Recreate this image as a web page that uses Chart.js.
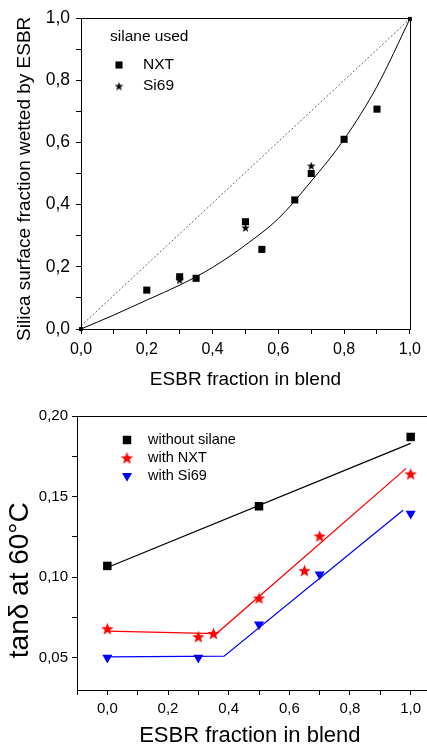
<!DOCTYPE html>
<html>
<head>
<meta charset="utf-8">
<script src="https://cdn.jsdelivr.net/npm/chart.js"></script>
<style>
  html, body { margin: 0; padding: 0; background: #fff; overflow: hidden; }
  #wrap { position: relative; width: 427px; height: 747px; overflow: hidden; }
  #wetting { position: absolute; left: 0; top: 0; }
  #tand { position: absolute; left: 0; top: 395px; }
</style>
</head>
<body>
<div id="wrap">
  <canvas id="wetting" width="427" height="395"></canvas>
  <canvas id="tand" width="460" height="352"></canvas>
</div>
<script>
// ---- top chart: silica surface fraction wetted by ESBR ----
const nxtX = [0.2, 0.3, 0.35, 0.5, 0.55, 0.65, 0.7, 0.8, 0.9];
const nxtWetted = [0.125, 0.168, 0.163, 0.345, 0.256, 0.415, 0.5, 0.61, 0.707];
const si69X = [0.3, 0.5, 0.7];
const si69Wetted = [0.158, 0.326, 0.525];
const fitX = [0, 0.1, 0.2, 0.3, 0.4, 0.5, 0.6, 0.7, 0.8, 0.9, 1.0];
const fitWetted = [0, 0.045, 0.093, 0.141, 0.198, 0.27, 0.355, 0.475, 0.61, 0.78, 0.997];
const diagX = [0, 1];
const diagY = [0.01, 0.997];
const wetTicksX = [0, 0.1, 0.2, 0.3, 0.4, 0.5, 0.6, 0.7, 0.8, 0.9, 1.0];
const wetTicksY = [0, 0.1, 0.2, 0.3, 0.4, 0.5, 0.6, 0.7, 0.8, 0.9, 1.0];

// ---- bottom chart: tan delta at 60 C ----
const plainX = [0, 0.5, 1.0];
const tanPlain = [0.107, 0.144, 0.187];
const tanNxtX = [0, 0.3, 0.35, 0.5, 0.65, 0.7, 1.0];
const tanNxt = [0.068, 0.063, 0.065, 0.087, 0.104, 0.1255, 0.164];
const tanSi69X = [0, 0.3, 0.5, 0.7, 1.0];
const tanSi69 = [0.05, 0.05, 0.0707, 0.1017, 0.1394];
const plainFitX = [0, 1.0];
const plainFit = [0.106, 0.183];
const nxtFitX = [0, 0.36, 0.985];
const nxtFit = [0.0665, 0.065, 0.1675];
const si69FitX = [0, 0.385, 0.975];
const si69Fit = [0.0505, 0.051, 0.1415];
const tanTicksX = [-0.1, 0, 0.1, 0.2, 0.3, 0.4, 0.5, 0.6, 0.7, 0.8, 0.9, 1.0, 1.1];
const tanTicksY = [0.05, 0.075, 0.1, 0.125, 0.15, 0.175, 0.2];

const FONT = "'Liberation Sans', Arial, sans-serif";
const pts = (xs, ys) => xs.map((x, i) => ({ x: x, y: ys[i] }));
const comma = (v, d) => v.toFixed(d).replace('.', ',');

// filled five point star used as point style
function makeStar(size, color) {
  const c = document.createElement('canvas');
  c.width = size; c.height = size;
  const g = c.getContext('2d');
  const R = size / 2, r = R * 0.42;
  g.fillStyle = color;
  g.beginPath();
  for (let i = 0; i < 10; i++) {
    const a = -Math.PI / 2 + i * Math.PI / 5;
    const rad = i % 2 === 0 ? R : r;
    g.lineTo(R + Math.cos(a) * rad, R + 0.5 + Math.sin(a) * rad);
  }
  g.closePath();
  g.fill();
  return c;
}

// box around the plot area
const frame = {
  id: 'frame',
  afterDatasetsDraw(chart) {
    const a = chart.chartArea, ctx = chart.ctx;
    ctx.save();
    ctx.strokeStyle = '#000';
    ctx.lineWidth = 1;
    ctx.strokeRect(Math.round(a.left) + 0.5, Math.round(a.top) + 0.5,
      Math.round(a.right - a.left), Math.round(a.bottom - a.top));
    ctx.restore();
  }
};

// legend drawn inside the plot, with the datasets' own markers
const markerLegend = {
  id: 'markerLegend',
  afterDraw(chart, args, opts) {
    const ctx = chart.ctx;
    ctx.save();
    ctx.font = opts.font;
    ctx.textBaseline = 'middle';
    ctx.fillStyle = '#000';
    if (opts.title) ctx.fillText(opts.title, opts.titleX, opts.titleY);
    opts.labels.forEach((label, i) => {
      const ds = chart.data.datasets.find(d => d.label === label);
      const y = opts.y + i * opts.rowH;
      ctx.fillStyle = ds.backgroundColor;
      Chart.helpers.drawPoint(ctx, {
        pointStyle: ds.pointStyle, radius: ds.pointRadius,
        rotation: ds.pointRotation || 0, borderWidth: 0
      }, opts.markerX, y);
      ctx.fillStyle = '#000';
      ctx.fillText(label, opts.textX, y);
    });
    ctx.restore();
  }
};

function axis(o) {
  return {
    type: 'linear',
    min: o.min, max: o.max,
    afterBuildTicks: s => { s.ticks = o.ticks.map(v => ({ value: v })); },
    afterFit: s => { if (o.w) s.width = o.w; if (o.h) s.height = o.h; },
    ticks: {
      autoSkip: false, maxRotation: 0, color: '#000', padding: o.pad,
      font: { family: FONT, size: o.tickSize },
      callback: v => o.major(v) ? comma(v, o.dec) : ''
    },
    grid: { drawOnChartArea: false, tickLength: 5, tickColor: '#000', tickWidth: 1 },
    border: { color: '#000', width: 1 },
    title: {
      display: true, text: o.title, color: '#000',
      font: { family: FONT, size: o.titleSize },
      padding: o.titlePad
    }
  };
}

const smallStar = makeStar(9, '#000');
new Chart(document.getElementById('wetting'), {
  type: 'scatter',
  data: {
    datasets: [
      { label: 'diag', data: pts(diagX, diagY), showLine: true, pointRadius: 0,
        borderColor: '#555', borderWidth: 0.9, borderDash: [2, 2] },
      { label: 'fit', data: pts(fitX, fitWetted), showLine: true, cubicInterpolationMode: 'monotone',
        borderColor: '#000', borderWidth: 1, backgroundColor: '#000', pointStyle: 'rect',
        pointRadius: c => (c.dataIndex === 0 || c.dataIndex === fitX.length - 1) ? 2.2 : 0 },
      { label: 'NXT', data: pts(nxtX, nxtWetted), pointStyle: 'rect', pointRadius: 5,
        backgroundColor: '#000', borderWidth: 0 },
      { label: 'Si69', data: pts(si69X, si69Wetted), pointStyle: smallStar, pointRadius: 4.5,
        backgroundColor: '#000', borderWidth: 0 }
    ]
  },
  options: {
    responsive: false, animation: false, devicePixelRatio: 1,
    layout: { padding: { top: 18, right: 12, left: 0, bottom: 0 } },
    datasets: { scatter: { clip: false } },
    plugins: {
      legend: { display: false }, tooltip: { enabled: false },
      markerLegend: {
        font: '15.5px ' + FONT, title: 'silane used', titleX: 110, titleY: 37,
        labels: ['NXT', 'Si69'], markerX: 119, textX: 143, y: 65, rowH: 21
      }
    },
    scales: {
      x: axis({ min: 0, max: 1, ticks: wetTicksX, h: 66, pad: 6, tickSize: 16, dec: 1,
        major: v => Math.round(v * 10) % 2 === 0, title: 'ESBR fraction in blend', titleSize: 19,
        titlePad: { top: 0, bottom: 4 } }),
      y: axis({ min: 0, max: 1, ticks: wetTicksY, w: 81, pad: 6, tickSize: 17.5, dec: 1,
        major: v => Math.round(v * 10) % 2 === 0, title: 'Silica surface fraction wetted by ESBR  ',
        titleSize: 19, titlePad: { top: 13, bottom: 0 } })
    }
  },
  plugins: [frame, markerLegend]
});

const redStar = makeStar(13, '#ff0000');
new Chart(document.getElementById('tand'), {
  type: 'scatter',
  data: {
    datasets: [
      { label: 'fitPlain', data: pts(plainFitX, plainFit), showLine: true, pointRadius: 0,
        borderColor: '#000', borderWidth: 1.3 },
      { label: 'fitNxt', data: pts(nxtFitX, nxtFit), showLine: true, pointRadius: 0,
        borderColor: '#ff0000', borderWidth: 1.3 },
      { label: 'fitSi69', data: pts(si69FitX, si69Fit), showLine: true, pointRadius: 0,
        borderColor: '#0000ff', borderWidth: 1.3 },
      { label: 'without silane', data: pts(plainX, tanPlain), pointStyle: 'rect', pointRadius: 6,
        backgroundColor: '#000', borderWidth: 0 },
      { label: 'with NXT', data: pts(tanNxtX, tanNxt), pointStyle: redStar, pointRadius: 6,
        backgroundColor: '#ff0000', borderWidth: 0 },
      { label: 'with Si69', data: pts(tanSi69X, tanSi69), pointStyle: 'triangle', pointRotation: 180,
        pointRadius: 5.8, backgroundColor: '#0000ff', borderWidth: 0 }
    ]
  },
  options: {
    responsive: false, animation: false, devicePixelRatio: 1,
    layout: { padding: { top: 21, right: 19, left: 0, bottom: 0 } },
    datasets: { scatter: { clip: false } },
    plugins: {
      legend: { display: false }, tooltip: { enabled: false },
      markerLegend: {
        font: '14.5px ' + FONT, labels: ['without silane', 'with NXT', 'with Si69'],
        markerX: 127, textX: 148, y: 45, rowH: 18
      }
    },
    scales: {
      x: axis({ min: -0.1, max: 1.1, ticks: tanTicksX, h: 57, pad: 5, tickSize: 15, dec: 1,
        major: v => Math.round(v * 10) % 2 === 0, title: 'ESBR fraction in blend   ', titleSize: 22,
        titlePad: { top: 0, bottom: -2 } }),
      y: axis({ min: 0.03, max: 0.2, ticks: tanTicksY, w: 77, pad: 4, tickSize: 15, dec: 2,
        major: v => Math.round(v * 1000) % 50 === 0, title: 'tanδ at 60°C       ',
        titleSize: 28, titlePad: { top: 3, bottom: 0 } })
    }
  },
  plugins: [frame, markerLegend]
});
</script>
</body>
</html>
